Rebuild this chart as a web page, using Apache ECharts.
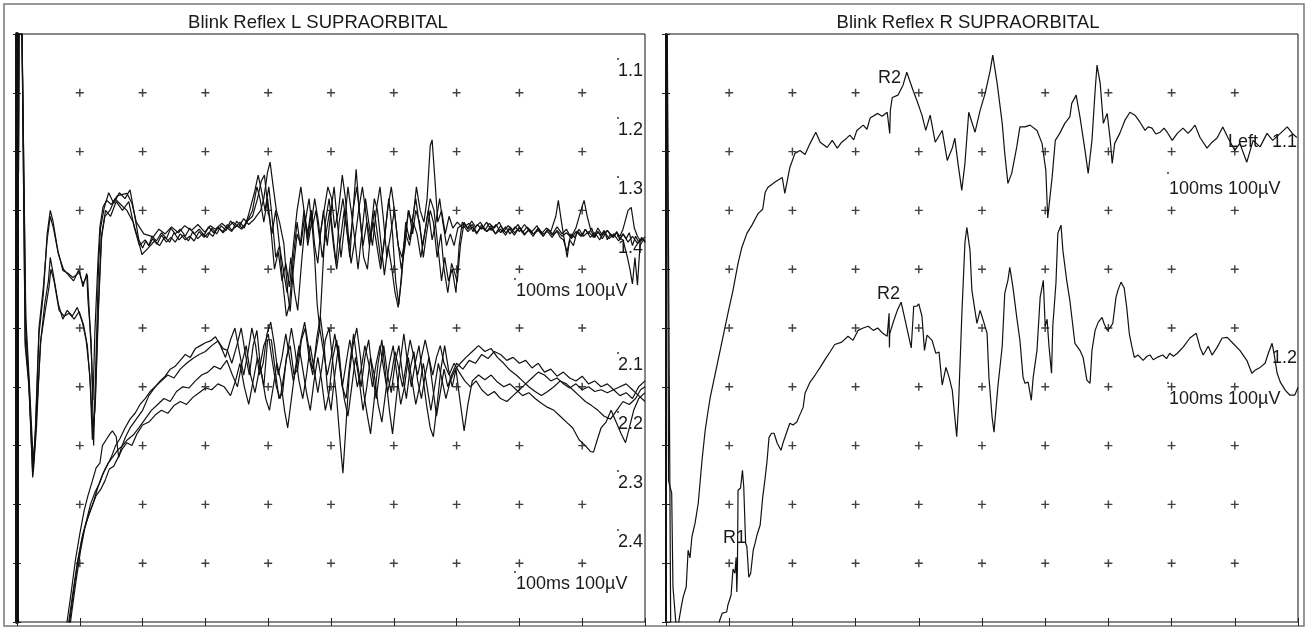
<!DOCTYPE html>
<html>
<head>
<meta charset="utf-8">
<title>Blink Reflex SUPRAORBITAL</title>
<script src="https://cdn.jsdelivr.net/npm/echarts@6/dist/echarts.min.js"></script>
<style>
  html, body { margin: 0; padding: 0; background: #fff; }
  #main { width: 1308px; height: 628px; }
</style>
</head>
<body>
<div id="main"></div>
<script>
// time in ms (10 ms / div), amplitude in µV (100 µV / div, bottom edge = 0)
const timeTicks = [10, 20, 30, 40, 50, 60, 70, 80, 90];
const ampTicks = [100, 200, 300, 400, 500, 600, 700, 800, 900];

const panelTitles = ['Blink Reflex L SUPRAORBITAL', 'Blink Reflex R SUPRAORBITAL'];
const leftLabels = ['1.1', '1.2', '1.3', '1.4', '100ms 100µV', '2.1', '2.2', '2.3', '2.4', '100ms 100µV'];
const rightLabels = ['Left', '1.1', '100ms 100µV', '1.2', '100ms 100µV'];

// left panel, upper group (1.1 - 1.4)
const leftUpper1 = [[0,0],[0.3,1000],[0.8,1000],[1.3,479],[1.9,411],[2.5,246],[2.9,310],[3.5,490],[4.2,558],[4.8,660],[5.3,700],[5.7,683],[6.5,632],[7.3,598],[8.1,593],[8.9,586],[10.0,595],[10.5,570],[11.1,593],[11.3,547],[11.8,479],[12.1,377],[12.4,493],[12.9,615],[13.2,672],[13.7,706],[14.3,717],[15.0,710],[16.0,725],[17.5,729],[18.3,712],[19.0,680],[20.2,660],[21.7,655],[22.6,668],[23.6,660],[24.6,672],[25.7,662],[26.7,674],[27.8,666],[28.8,676],[29.9,663],[30.8,674],[31.6,668],[32.6,678],[33.5,670],[34.4,680],[35.3,672],[36.1,686],[36.9,676],[37.7,684],[38.8,700],[39.3,720],[39.9,765],[40.3,782],[40.8,740],[41.3,700],[41.8,680],[42.5,643],[43.1,560],[43.5,528],[44.0,600],[44.6,660],[45.2,640],[45.8,690],[46.3,650],[46.9,700],[47.4,640],[47.9,610],[48.3,660],[48.9,700],[49.5,740],[50.1,720],[50.6,670],[51.2,700],[51.8,760],[52.3,720],[52.9,640],[53.4,680],[54.0,770],[54.5,700],[55.1,640],[55.7,680],[56.3,650],[56.9,700],[57.5,650],[58.0,610],[58.6,660],[59.2,720],[59.8,660],[60.3,580],[60.8,540],[61.3,600],[61.9,680],[62.5,650],[63.1,690],[63.6,740],[64.2,700],[64.8,680],[65.3,720],[65.8,810],[66.1,820],[66.5,760],[67.0,680],[67.6,700],[68.2,660],[68.8,690],[69.4,670],[70.1,680],[71.0,670],[72.0,678],[72.6,664],[73.3,676],[74.0,668],[74.8,680],[75.5,666],[76.3,676],[77.0,662],[77.8,672],[78.5,660],[79.3,672],[80.0,664],[80.8,676],[81.5,666],[82.3,660],[83.0,670],[83.8,656],[84.5,668],[85.3,660],[86.0,672],[86.8,660],[87.5,668],[88.3,652],[89.0,664],[89.8,656],[90.5,668],[91.3,654],[92.0,662],[92.8,650],[93.5,664],[94.3,652],[95.0,660],[95.8,648],[96.5,660],[97.3,646],[98.0,656],[98.8,644],[99.5,652],[100,648]];
const leftUpper2 = [[0,0],[0.3,1000],[0.8,1000],[1.4,500],[2.0,380],[2.6,255],[3.1,330],[3.7,470],[4.4,540],[5.0,580],[5.3,620],[5.8,590],[6.6,540],[7.3,515],[8.0,530],[8.8,520],[9.6,535],[10.4,510],[11.0,480],[11.6,420],[12.0,310],[12.4,360],[12.9,520],[13.4,650],[14.0,690],[14.8,700],[15.6,720],[16.5,710],[17.5,700],[18.5,680],[19.3,650],[19.9,625],[20.8,635],[21.9,648],[22.7,640],[23.5,655],[24.3,646],[25.0,662],[25.8,650],[26.5,658],[27.3,648],[28.0,664],[28.8,652],[29.5,660],[30.3,654],[31.0,670],[31.8,660],[32.5,674],[33.3,666],[34.0,682],[34.8,672],[35.5,680],[36.2,670],[36.8,690],[37.8,730],[38.4,760],[38.9,735],[39.5,700],[40.1,740],[40.6,690],[41.2,620],[41.8,640],[42.4,600],[43.0,560],[43.6,620],[44.2,560],[44.7,530],[45.3,610],[45.9,680],[46.5,720],[47.0,670],[47.6,700],[48.2,650],[48.8,700],[49.4,640],[50.0,700],[50.5,740],[51.0,680],[51.6,620],[52.1,670],[52.7,740],[53.2,700],[53.8,650],[54.3,600],[54.9,660],[55.5,720],[56.0,680],[56.6,640],[57.2,700],[57.8,740],[58.3,690],[58.9,620],[59.5,660],[60.1,700],[60.6,650],[61.2,600],[61.8,640],[62.3,700],[62.9,680],[63.5,720],[64.0,680],[64.6,640],[65.2,680],[65.8,720],[66.4,700],[67.0,640],[67.6,580],[68.1,620],[68.7,580],[69.3,600],[69.9,560],[70.4,640],[70.9,680],[71.8,670],[72.4,682],[73.0,672],[73.8,680],[74.5,666],[75.2,678],[76.0,670],[76.8,680],[77.5,664],[78.2,674],[79.0,666],[79.8,676],[80.5,662],[81.2,672],[82.0,664],[82.8,674],[83.5,660],[84.3,670],[85.0,664],[85.8,690],[86.2,717],[86.7,680],[87.3,640],[87.6,620],[88.0,650],[88.6,640],[89.2,665],[90.0,656],[90.5,668],[91.0,660],[91.5,670],[92.0,655],[92.5,664],[93.0,658],[93.5,666],[94.0,650],[94.5,660],[95.0,654],[95.5,664],[96.0,650],[96.5,660],[97.0,652],[97.5,662],[98.0,640],[98.5,656],[99.0,646],[99.5,654],[100,645]];
const leftUpper3 = [[0,0],[0.3,1000],[0.8,1000],[1.3,470],[1.9,400],[2.5,250],[2.9,320],[3.5,500],[4.2,570],[4.8,650],[5.3,690],[5.8,670],[6.6,625],[7.4,600],[8.2,590],[9.0,580],[9.8,598],[10.5,575],[11.2,590],[11.5,530],[11.9,440],[12.2,300],[12.5,420],[13.0,610],[13.3,670],[13.9,705],[14.6,730],[15.4,712],[16.3,730],[17.2,720],[18.0,735],[18.6,700],[19.4,650],[20.0,636],[20.5,648],[21.0,640],[21.5,656],[22.2,648],[23.0,662],[23.8,652],[24.5,670],[25.2,660],[26.0,668],[26.8,656],[27.5,670],[28.2,660],[29.0,668],[29.8,658],[30.5,672],[31.3,662],[32.0,670],[32.8,664],[33.5,676],[34.2,666],[35.0,674],[35.8,668],[36.5,680],[37.5,690],[38.3,720],[38.9,750],[39.4,760],[40.0,700],[40.6,660],[41.2,700],[41.8,640],[42.3,580],[42.9,520],[43.4,540],[44.0,620],[44.6,680],[45.1,640],[45.7,700],[46.3,660],[46.8,700],[47.4,620],[47.8,540],[48.2,500],[48.6,580],[49.1,680],[49.7,720],[50.3,660],[50.8,610],[51.3,680],[51.9,720],[52.4,680],[53.0,620],[53.5,700],[54.1,740],[54.6,690],[55.2,620],[55.8,600],[56.3,660],[56.9,720],[57.4,700],[58.0,640],[58.5,590],[59.1,640],[59.7,600],[60.2,560],[60.7,535],[61.2,580],[61.8,660],[62.4,700],[63.0,660],[63.5,700],[64.1,680],[64.7,620],[65.2,660],[65.8,700],[66.3,680],[66.9,620],[67.5,660],[68.0,600],[68.6,560],[69.2,610],[69.8,590],[70.1,578],[70.6,640],[71.2,680],[71.8,668],[72.5,676],[73.2,662],[74.0,672],[74.8,664],[75.5,674],[76.2,660],[77.0,668],[77.8,658],[78.5,672],[79.2,662],[80.0,670],[80.8,658],[81.5,668],[82.2,660],[83.0,666],[83.8,656],[84.5,668],[85.2,658],[86.0,664],[86.5,654],[87.0,650],[87.6,630],[88.2,660],[88.8,654],[89.5,668],[90.2,656],[91.0,664],[91.8,654],[92.5,670],[93.2,658],[94.0,666],[94.8,656],[95.5,662],[96.0,652],[96.5,650],[97.2,620],[97.6,600],[98.0,575],[98.4,620],[98.8,573],[99.2,640],[99.6,648],[100,650]];
const leftUpper4 = [[0,0],[0.3,1000],[0.8,1000],[1.4,520],[2.0,400],[2.6,270],[3.1,350],[3.8,480],[4.5,530],[5.1,570],[5.4,600],[5.9,580],[6.7,530],[7.5,520],[8.3,525],[9.1,515],[9.9,528],[10.6,505],[11.2,470],[11.7,400],[12.1,320],[12.5,380],[13.0,540],[13.5,660],[14.1,700],[14.9,690],[15.8,715],[16.8,700],[17.8,715],[18.7,670],[19.5,640],[20.4,650],[21.0,640],[21.6,652],[22.3,642],[23.0,658],[23.8,646],[24.5,654],[25.2,646],[26.0,660],[26.8,650],[27.5,656],[28.2,648],[29.0,664],[29.8,654],[30.5,662],[31.2,656],[32.0,672],[32.8,662],[33.5,670],[34.2,664],[35.0,682],[35.8,670],[36.5,678],[37.5,700],[38.2,740],[38.7,720],[39.3,680],[39.9,720],[40.5,660],[41.0,600],[41.6,630],[42.2,580],[42.8,610],[43.4,570],[44.0,640],[44.6,700],[45.2,740],[45.7,700],[46.3,640],[46.9,680],[47.4,720],[48.0,680],[48.6,620],[49.2,660],[49.8,700],[50.4,640],[50.9,600],[51.5,650],[52.1,700],[52.6,660],[53.2,610],[53.8,650],[54.4,700],[55.0,740],[55.5,700],[56.1,640],[56.7,680],[57.3,640],[57.9,600],[58.4,640],[59.0,700],[59.6,740],[60.1,700],[60.7,640],[61.3,620],[61.9,660],[62.5,640],[63.1,680],[63.7,660],[64.3,620],[64.9,660],[65.5,700],[66.1,650],[66.7,680],[67.3,720],[67.8,680],[68.4,640],[69.0,660],[69.6,640],[70.2,670],[71.0,676],[71.8,664],[72.5,672],[73.2,660],[74.0,676],[74.8,664],[75.5,670],[76.2,660],[77.0,674],[77.8,662],[78.5,668],[79.2,658],[80.0,672],[80.8,660],[81.5,666],[82.2,656],[83.0,670],[83.8,660],[84.5,664],[85.2,654],[86.0,666],[86.8,656],[87.5,662],[88.2,654],[89.0,670],[89.8,700],[90.3,717],[90.8,690],[91.4,665],[92.0,654],[92.5,664],[93.2,652],[94.0,666],[94.8,654],[95.5,662],[96.0,656],[96.5,668],[97.3,700],[97.8,705],[98.3,670],[98.8,656],[99.3,648],[100,655]];

// left panel, lower group (2.1 - 2.4)
const leftLower1 = [[0,1000],[0.3,-300],[7.5,-300],[7.8,-10],[8.0,3],[8.6,48],[9.3,105],[10.0,150],[10.7,190],[11.3,215],[12.0,240],[12.6,262],[13.2,270],[13.6,300],[14.2,310],[14.8,320],[15.2,325],[15.8,315],[16.2,280],[16.6,296],[17.3,315],[18.0,330],[19.0,345],[20.0,360],[21.0,385],[22.0,400],[23.0,410],[24.0,420],[25.0,415],[26.0,430],[27.0,440],[28.0,448],[29.0,455],[30.0,460],[31.0,470],[32.0,478],[32.8,465],[33.5,462],[34.2,440],[35.0,470],[35.7,500],[36.3,460],[37.0,420],[37.6,470],[38.2,496],[38.8,430],[39.3,400],[39.9,480],[40.5,480],[41.1,430],[41.7,380],[42.3,390],[42.9,450],[43.5,470],[44.1,420],[44.7,430],[45.3,480],[45.9,500],[46.5,450],[47.1,420],[47.7,480],[48.3,520],[48.9,470],[49.4,400],[50.0,360],[50.6,420],[51.2,470],[51.8,400],[52.4,380],[53.0,440],[53.6,490],[54.2,440],[54.8,400],[55.4,450],[56.0,480],[56.6,420],[57.2,380],[57.8,430],[58.4,470],[59.0,420],[59.6,390],[60.2,440],[60.8,470],[61.4,420],[62.0,380],[62.6,430],[63.2,460],[63.8,410],[64.4,380],[65.0,420],[65.6,450],[66.2,400],[66.8,350],[67.4,390],[68.0,430],[68.6,400],[69.2,420],[70.0,440],[71.0,430],[72.0,445],[73.0,440],[74.0,455],[75.0,448],[76.0,460],[77.0,455],[78.0,445],[79.0,450],[80.0,440],[81.0,445],[82.0,432],[83.0,440],[84.0,425],[85.0,430],[86.0,418],[87.0,425],[88.0,415],[89.0,410],[90.0,418],[91.0,405],[92.0,410],[93.0,400],[94.0,405],[95.0,395],[96.0,385],[97.0,390],[98.0,380],[99.0,400],[100,410]];
const leftLower2 = [[0,1000],[0.3,-300],[7.8,-300],[8.1,-10],[8.3,5],[8.9,50],[9.6,100],[10.3,140],[11.0,170],[11.7,200],[12.4,220],[13.1,235],[13.8,255],[14.5,270],[15.2,280],[16.0,292],[16.8,300],[17.6,310],[18.5,318],[19.4,330],[20.4,345],[21.4,360],[22.4,370],[23.4,380],[24.4,375],[25.4,392],[26.4,400],[27.4,398],[28.4,410],[29.4,420],[30.4,425],[31.4,435],[32.4,430],[33.4,445],[34.3,420],[35.1,400],[35.8,440],[36.5,470],[37.2,420],[37.9,390],[38.6,430],[39.3,470],[40.0,490],[40.7,440],[41.3,400],[41.9,380],[42.5,420],[43.1,460],[43.7,500],[44.3,460],[44.9,410],[45.5,380],[46.1,420],[46.7,470],[47.3,430],[47.9,390],[48.5,430],[49.1,480],[49.7,500],[50.3,440],[50.9,380],[51.5,300],[51.9,253],[52.3,320],[52.9,420],[53.5,470],[54.1,500],[54.7,450],[55.2,390],[55.8,350],[56.3,320],[56.9,380],[57.5,440],[58.1,480],[58.7,420],[59.3,360],[59.8,320],[60.4,380],[61.0,440],[61.6,490],[62.2,440],[62.8,400],[63.4,440],[64.0,470],[64.6,420],[65.2,370],[65.8,330],[66.3,315],[66.9,370],[67.5,430],[68.1,470],[68.7,430],[69.3,400],[69.9,430],[70.5,380],[71.2,325],[71.8,370],[72.5,410],[73.5,420],[74.5,412],[75.5,420],[76.5,408],[77.5,400],[78.5,405],[79.5,395],[80.5,385],[81.5,390],[82.5,380],[83.5,372],[84.5,365],[85.5,360],[86.5,350],[87.5,340],[88.5,330],[89.5,310],[90.5,300],[91.3,290],[91.8,289],[92.4,310],[93.0,330],[93.8,340],[94.6,360],[95.4,340],[96.2,320],[96.9,305],[97.5,330],[98.2,360],[99.0,380],[100,390]];
const leftLower3 = [[0,1000],[0.3,-300],[7.9,-300],[8.2,-10],[8.5,10],[9.1,60],[9.8,110],[10.5,150],[11.2,175],[11.9,195],[12.6,215],[13.3,225],[14.0,240],[14.7,260],[15.4,265],[16.1,280],[16.8,295],[17.5,305],[18.3,300],[19.1,320],[20.0,335],[21.0,340],[22.0,352],[23.0,360],[24.0,355],[25.0,368],[26.0,375],[27.0,370],[28.0,382],[29.0,390],[30.0,398],[31.0,395],[32.0,405],[33.0,400],[34.0,385],[34.8,410],[35.5,440],[36.2,400],[36.9,370],[37.6,410],[38.3,450],[39.0,420],[39.6,380],[40.2,360],[40.8,400],[41.4,440],[42.0,410],[42.6,360],[43.1,330],[43.7,380],[44.3,430],[44.9,470],[45.5,430],[46.1,390],[46.7,360],[47.3,410],[47.9,450],[48.5,410],[49.1,360],[49.7,390],[50.3,450],[50.9,480],[51.5,430],[52.1,380],[52.7,350],[53.3,400],[53.9,450],[54.5,410],[55.1,360],[55.7,400],[56.3,450],[56.9,420],[57.5,370],[58.1,340],[58.7,390],[59.3,440],[59.9,470],[60.5,420],[61.1,370],[61.7,400],[62.3,450],[62.9,410],[63.5,370],[64.1,400],[64.7,440],[65.3,400],[65.9,360],[66.5,400],[67.1,440],[67.7,410],[68.3,380],[69.0,410],[69.8,430],[70.6,440],[71.5,450],[72.5,460],[73.5,470],[74.5,460],[75.5,465],[76.5,450],[77.5,440],[78.5,428],[79.5,420],[80.5,410],[81.5,400],[82.5,392],[83.5,385],[84.5,392],[85.5,400],[86.5,410],[87.5,405],[88.5,395],[89.5,385],[90.5,375],[91.5,368],[92.5,360],[93.5,350],[94.5,345],[95.5,360],[96.5,375],[97.5,370],[98.5,380],[99.3,395],[100,400]];
const leftLower4 = [[0,1000],[0.3,-300],[8.1,-300],[8.4,-10],[8.7,15],[9.4,70],[10.1,120],[10.8,160],[11.5,185],[12.2,205],[12.9,230],[13.6,250],[14.3,265],[15.0,280],[15.7,300],[16.4,312],[17.2,330],[18.0,345],[18.8,355],[19.6,370],[20.4,380],[21.2,392],[22.0,400],[22.8,410],[23.6,418],[24.4,430],[25.2,435],[26.0,445],[26.8,455],[27.6,450],[28.4,465],[29.2,470],[30.0,475],[30.8,478],[31.6,485],[32.4,470],[33.2,450],[34.0,480],[34.7,500],[35.4,460],[36.1,420],[36.8,460],[37.4,500],[38.0,470],[38.6,420],[39.2,440],[39.8,490],[40.4,510],[41.0,470],[41.6,420],[42.2,450],[42.8,490],[43.4,450],[44.0,410],[44.6,440],[45.2,480],[45.8,510],[46.4,470],[47.0,430],[47.6,460],[48.2,500],[48.8,460],[49.4,420],[50.0,450],[50.6,490],[51.2,450],[51.8,400],[52.4,440],[53.0,480],[53.6,440],[54.2,400],[54.8,430],[55.4,470],[56.0,440],[56.6,400],[57.2,440],[57.8,470],[58.4,430],[59.0,390],[59.6,420],[60.2,460],[60.8,430],[61.4,400],[62.0,440],[62.6,480],[63.2,450],[63.8,420],[64.4,450],[65.0,480],[65.6,450],[66.2,420],[66.8,450],[67.4,470],[68.0,440],[68.8,420],[69.6,440],[70.4,425],[71.3,410],[72.2,400],[73.1,410],[74.0,395],[75.0,385],[76.0,392],[77.0,380],[78.0,375],[79.0,385],[80.0,395],[81.0,405],[82.0,415],[83.0,425],[84.0,420],[85.0,410],[86.0,415],[87.0,405],[88.0,398],[89.0,405],[90.0,395],[91.0,400],[92.0,392],[93.0,395],[94.0,390],[95.0,395],[96.0,400],[97.0,405],[98.0,395],[99.0,385],[100,375]];

// right panel
const rightUpper = [[0.2,1000],[0.4,240],[0.9,219],[1.1,60],[1.7,-20],[2.0,-20],[2.4,25],[2.7,42],[3.2,60],[3.5,122],[3.8,109],[4.1,145],[4.6,168],[5.1,202],[5.7,275],[6.2,326],[6.6,355],[7.0,382],[8.0,433],[8.9,479],[9.8,525],[10.6,564],[11.4,610],[12.0,637],[12.8,661],[13.6,675],[14.6,695],[15.3,702],[15.7,731],[16.1,739],[17.2,748],[18.4,756],[18.8,729],[19.6,773],[20.4,797],[21.2,802],[22.0,795],[22.8,814],[23.7,833],[24.4,816],[25.5,807],[26.3,819],[27.1,806],[27.8,816],[28.5,822],[29.1,828],[29.7,820],[30.2,836],[31.2,845],[31.8,838],[32.3,857],[33.5,865],[34.2,860],[35.0,867],[35.3,867],[35.4,831],[35.5,870],[35.8,892],[36.7,896],[37.5,913],[38.1,935],[38.4,935],[39.1,904],[39.7,887],[40.5,862],[41.1,836],[41.8,862],[42.6,816],[43.7,836],[44.5,785],[45.3,806],[45.7,823],[46.2,780],[46.8,734],[47.3,780],[47.9,867],[48.9,833],[49.7,870],[50.5,899],[51.3,938],[51.7,964],[52.4,916],[53.2,848],[53.6,797],[54.1,746],[54.7,763],[55.5,808],[56.0,842],[56.8,842],[57.6,845],[58.7,836],[59.5,814],[60.1,768],[60.4,687],[61.1,757],[61.6,819],[62.3,831],[63.1,848],[63.9,859],[64.2,882],[64.9,896],[65.5,859],[66.3,802],[66.8,763],[67.4,819],[67.9,904],[68.2,947],[68.7,916],[69.2,848],[69.8,865],[70.3,819],[70.6,780],[71.0,814],[71.8,831],[72.6,853],[73.4,867],[74.2,862],[75.0,850],[75.8,836],[76.3,842],[76.9,840],[77.5,830],[78.2,833],[78.8,840],[79.3,833],[80.1,819],[80.9,831],[81.8,840],[82.6,831],[83.2,838],[83.7,845],[84.5,824],[85.6,806],[86.4,816],[87.2,823],[88.1,842],[88.9,824],[90.0,802],[90.8,814],[91.9,782],[92.9,819],[94.0,808],[95.1,831],[96.0,819],[97.2,831],[98.3,842],[99.1,831],[99.8,824]];
const rightLower = [[0.2,1000],[0.9,-300],[8.0,-300],[8.2,-10],[8.5,3],[8.9,15],[9.6,17],[9.8,29],[10.3,46],[10.6,90],[10.9,83],[11.1,110],[11.2,51],[11.3,88],[11.4,224],[11.8,228],[12.1,258],[12.3,230],[12.6,134],[12.8,128],[13.1,76],[13.4,83],[13.8,122],[14.1,134],[14.4,148],[14.9,165],[15.3,212],[15.7,246],[16.0,275],[16.3,314],[16.7,321],[17.1,321],[17.6,304],[18.2,292],[18.5,304],[19.2,326],[19.6,338],[20.1,335],[20.7,340],[21.0,348],[21.7,365],[22.0,389],[22.8,408],[23.6,420],[24.4,433],[25.2,447],[26.0,460],[26.7,472],[27.8,476],[28.8,486],[29.6,479],[30.4,496],[31.2,500],[32.0,503],[32.8,496],[33.5,500],[34.3,491],[35.0,486],[35.3,525],[35.35,467],[35.4,490],[35.9,508],[36.6,530],[37.2,544],[37.6,525],[38.3,491],[38.8,466],[39.2,537],[39.7,537],[40.0,541],[40.5,520],[40.9,462],[41.3,488],[42.1,479],[42.7,457],[43.2,459],[43.7,403],[44.3,433],[44.8,416],[45.3,394],[45.7,348],[46.0,315],[46.3,372],[46.8,520],[47.3,645],[47.6,671],[48.1,632],[48.4,564],[49.2,508],[49.7,530],[50.2,513],[50.8,491],[51.1,416],[51.6,348],[51.9,323],[52.5,399],[53.2,469],[53.6,559],[54.1,581],[54.4,603],[54.9,569],[55.5,518],[56.0,479],[56.5,416],[56.8,406],[57.3,408],[57.8,377],[58.1,416],[58.7,462],[59.2,552],[59.7,581],[60.0,503],[60.3,515],[60.6,469],[61.0,423],[61.2,503],[61.7,576],[62.0,661],[62.5,675],[62.8,632],[63.4,581],[63.9,547],[64.7,474],[65.5,462],[66.0,450],[66.6,411],[67.1,406],[67.4,462],[67.9,496],[68.4,510],[69.0,518],[69.3,508],[69.8,496],[70.3,501],[70.7,508],[71.2,552],[71.5,564],[72.0,578],[72.5,568],[72.9,535],[73.3,491],[73.7,469],[74.1,450],[74.7,454],[75.5,445],[76.1,452],[76.6,454],[77.1,446],[77.7,450],[78.6,454],[79.2,448],[79.7,457],[80.3,452],[80.9,457],[81.8,467],[82.9,483],[83.9,491],[84.5,467],[85.0,454],[85.8,469],[86.4,454],[87.2,467],[88.0,483],[88.8,484],[89.7,474],[90.8,462],[91.9,445],[92.7,423],[93.2,428],[94.0,433],[94.8,440],[95.3,457],[95.9,474],[96.2,457],[96.7,423],[97.2,408],[98.0,394],[98.7,386],[99.5,386],[100,399]];

const chart = echarts.init(document.getElementById('main'));

const grids = [
    {left: 17, top: 34, width: 628, height: 588},
    {left: 666, top: 34, width: 632, height: 588}
];

// grid crosses built from tick arrays
let crossData = [];
for (let t of timeTicks) {
    for (let a of ampTicks) {
        crossData.push([t, a]);
    }
}

let xAxes = [], yAxes = [];
grids.forEach((g, i) => {
    ['bottom', 'top'].forEach(pos => {
        xAxes.push({
            gridIndex: i, type: 'value', min: 0, max: 100, interval: 10, position: pos,
            axisLine: {show: false},
            axisTick: {inside: true, length: 4, lineStyle: {color: '#222'}},
            axisLabel: {show: false},
            splitLine: {show: false}
        });
    });
    ['left', 'right'].forEach(pos => {
        yAxes.push({
            gridIndex: i, type: 'value', min: 0, max: 1000, interval: 100, position: pos,
            axisLine: {show: pos == 'left', lineStyle: {color: '#111', width: i == 0 ? 4 : 2}},
            axisTick: {show: true, inside: true, length: 4, lineStyle: {color: '#222'}},
            axisLabel: {show: false},
            splitLine: {show: false}
        });
    });
});

function trace(data, i) {
    return {
        type: 'line', xAxisIndex: i * 2, yAxisIndex: i * 2, data: data,
        symbol: 'none', clip: true, silent: true,
        lineStyle: {color: '#111', width: 1.2}
    };
}
function crosses(i) {
    return {
        type: 'scatter', xAxisIndex: i * 2, yAxisIndex: i * 2, data: crossData,
        symbol: 'path://M3,0h1.3v3h3v1.3h-3v3h-1.3v-3h-3v-1.3h3z',
        symbolSize: 8, silent: true,
        itemStyle: {color: '#111'}
    };
}

const font = 'Liberation Sans, Arial, sans-serif';
function txt(x, y, s, align, size) {
    return {
        type: 'text', x: x, y: y, silent: true,
        style: {text: s, fill: '#1a1a1a', font: (size || 18) + 'px ' + font, textAlign: align || 'left', textVerticalAlign: 'middle'}
    };
}
function dot(x, y) {
    return {type: 'circle', shape: {cx: x, cy: y, r: 0.9}, style: {fill: '#222'}, silent: true};
}

// label layout (pixels)
const leftLabelPos = [[643, 71, 'right'], [643, 130, 'right'], [643, 189, 'right'], [643, 248, 'right'], [516, 291, 'left'],
                      [643, 365, 'right'], [643, 424, 'right'], [643, 483, 'right'], [643, 542, 'right'], [516, 584, 'left']];
const rightLabelPos = [[1228, 142, 'left'], [1297, 142, 'right'], [1169, 189, 'left'], [1297, 358, 'right'], [1169, 399, 'left']];

let graphics = [
    {type: 'rect', shape: {x: 4, y: 4, width: 1300, height: 622}, style: {fill: 'none', stroke: '#777', lineWidth: 1.5}, silent: true},
    txt(318, 23, panelTitles[0], 'center', 18.5),
    txt(968, 23, panelTitles[1], 'center', 18.5),
    txt(878, 78, 'R2'),
    txt(877, 294, 'R2'),
    txt(723, 538, 'R1')
];
leftLabels.forEach((s, k) => {
    let p = leftLabelPos[k];
    graphics.push(txt(p[0], p[1], s, p[2]));
    let lx = p[2] == 'right' ? p[0] - 25 : p[0] - 1;
    graphics.push(dot(lx, p[1] - 12));
});
rightLabels.forEach((s, k) => {
    let p = rightLabelPos[k];
    graphics.push(txt(p[0], p[1], s, p[2]));
    if (s.indexOf('ms') > 0) graphics.push(dot(p[0] - 1, p[1] - 16));
});

chart.setOption({
    backgroundColor: '#fff',
    animation: false,
    grid: grids.map(g => Object.assign({show: true, borderColor: '#111', borderWidth: 1, backgroundColor: 'transparent'}, g)),
    xAxis: xAxes,
    yAxis: yAxes,
    series: [
        crosses(0), crosses(1),
        trace(leftUpper1, 0), trace(leftUpper2, 0), trace(leftUpper3, 0), trace(leftUpper4, 0),
        trace(leftLower1, 0), trace(leftLower2, 0), trace(leftLower3, 0), trace(leftLower4, 0),
        trace(rightUpper, 1), trace(rightLower, 1)
    ],
    graphic: graphics
});
window.onresize = chart.resize;
</script>
</body>
</html>
